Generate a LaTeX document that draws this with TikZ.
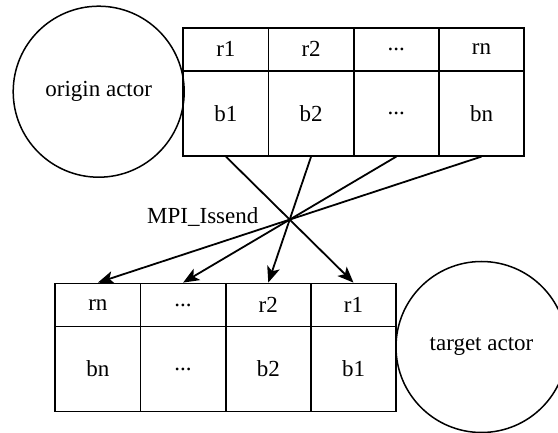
\documentclass[tikz,border=0pt]{standalone}
\usepackage{fontspec}
\setmainfont{Liberation Serif}
\usetikzlibrary{arrows.meta}
\newcommand\cellgap{.{}.{}.}
\begin{document}
\begin{tikzpicture}[x=1pt,y=-1pt,
  every node/.style={font=\fontsize{23}{27}\selectfont},
  cell/.style={draw, line width=1.8pt, minimum width=85.2pt, inner sep=0pt},
  headcell/.style={cell, minimum height=43pt},
  bodycell/.style={cell, minimum height=85pt},
  actor/.style={draw, circle, line width=1.5pt, minimum size=171pt, inner sep=0pt},
  msg/.style={line width=1.8pt, -{Stealth[length=16pt,width=13pt,inset=4pt]}}]
\useasboundingbox (0,0) rectangle (558,433);
\clip (0,0) rectangle (558,433);

% sending side: actor and its buffer table
\node[actor] (origin) at (98.7,91.7) {origin actor};
\foreach \k/\r/\b in {1/r1/b1, 2/r2/b2, 3/\cellgap/\cellgap, 4/rn/bn} {
  \node[headcell] (ohead\k) at ({225.9+(\k-1)*85.2},49.2) {\r};
  \node[bodycell] (obody\k) at ({225.9+(\k-1)*85.2},113.2) {\b};
}

% receiving side: table in reverse order and its actor
\foreach \k/\r/\b in {1/r1/b1, 2/r2/b2, 3/\cellgap/\cellgap, 4/rn/bn} {
  \node[headcell] (thead\k) at ({97.9+(4-\k)*85.2},305) {\r};
  \node[bodycell] (tbody\k) at ({97.9+(4-\k)*85.2},369) {\b};
}
\node[actor] (target) at (481.5,347) {target actor};

% messages
\foreach \k in {1,...,4}
  \draw[msg] (obody\k.south) -- (thead\k.north);
\node (issend) at (202.8,217) {MPI\_Issend};
\end{tikzpicture}
\end{document}
